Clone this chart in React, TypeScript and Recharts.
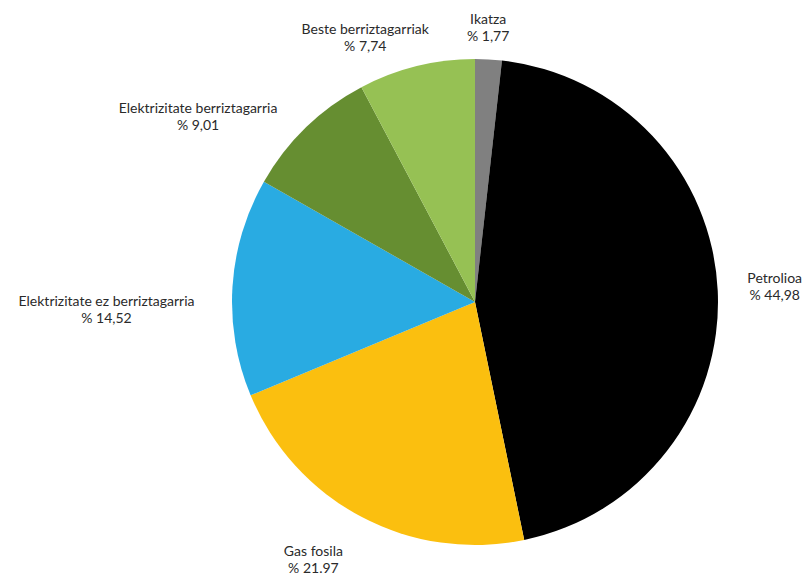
import React from "react";
import { PieChart, Pie, Cell } from "recharts";

const categories = [
  "Ikatza",
  "Petrolioa",
  "Gas fosila",
  "Elektrizitate ez berriztagarria",
  "Elektrizitate berriztagarria",
  "Beste berriztagarriak",
];
const values = [1.77, 44.98, 21.97, 14.52, 9.01, 7.74];
const valueLabels = ["% 1,77", "% 44,98", "% 21.97", "% 14,52", "% 9,01", "% 7,74"];

const COLORS = ["#808080", "#000000", "#FBBF0F", "#29ABE2", "#668E31", "#96C154"];
// label nudges (layout only), relative to the geometric anchor point
const LABEL_NUDGE: [number, number][] = [
  [-2, -2],
  [27, -3],
  [-34, 16],
  [-96, 24],
  [-87, 10],
  [-44, 0],
];

const data = categories.map((name, i) => ({ name, value: values[i], label: valueLabels[i] }));

const RAD = Math.PI / 180;

const renderLabel = (props: any) => {
  const { cx, cy, midAngle, outerRadius, index } = props;
  const r = outerRadius + 30;
  const x = cx + r * Math.cos(-midAngle * RAD) + LABEL_NUDGE[index][0];
  const y = cy + r * Math.sin(-midAngle * RAD) + LABEL_NUDGE[index][1];
  return (
    <text
      x={x}
      y={y}
      textAnchor="middle"
      fill="#2a2a2a"
      fontFamily="Lato, 'Open Sans', sans-serif"
      fontSize={14}
    >
      <tspan x={x} y={y - 8.5} dominantBaseline="central">
        {data[index].name}
      </tspan>
      <tspan x={x} y={y + 8.5} dominantBaseline="central">
        {data[index].label}
      </tspan>
    </text>
  );
};

export default function App() {
  return (
    <div style={{ position: "absolute", left: 0, top: 0, width: 808, height: 576, background: "#fff" }}>
      <PieChart width={808} height={576} margin={{ top: 0, right: 0, bottom: 0, left: 0 }}>
        <Pie
          data={data}
          dataKey="value"
          nameKey="name"
          cx={475}
          cy={302}
          outerRadius={243}
          startAngle={90}
          endAngle={-270}
          stroke="none"
          label={renderLabel}
          labelLine={false}
          isAnimationActive={false}
        >
          {data.map((d, i) => (
            <Cell key={d.name} fill={COLORS[i]} />
          ))}
        </Pie>
      </PieChart>
    </div>
  );
}
